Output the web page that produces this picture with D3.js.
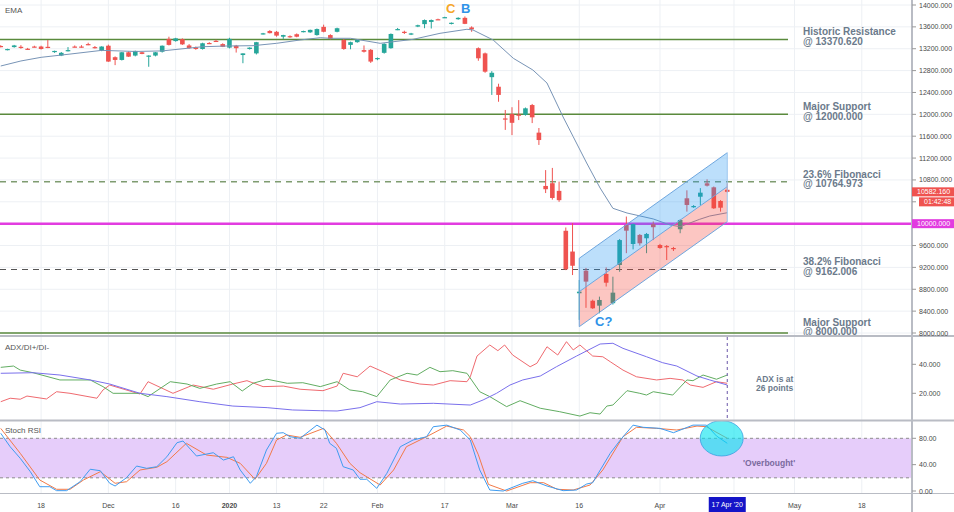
<!DOCTYPE html>
<meta charset="utf-8">
<style>
body{margin:0;background-color:#fff;}
svg text{font-family:"Liberation Sans",Arial,sans-serif;}
.note{font-weight:bold;fill:#6b7a8b;font-size:10px;}
.axis-label{font-size:7px;fill:#4a4a4a;}
.pane-title{font-size:8px;fill:#555;}
</style>
<svg id="chart" width="954" height="512"></svg>
<script src="https://cdn.jsdelivr.net/npm/d3@7"></script>
<script>
// daily candles, [bar, open, high, low, close]; bar 0 = 18 Nov 2019, holidays skipped
const candles = [
  [-6,13250,13265,13225,13235],[-5,13180,13200,13170,13195],[-4,13230,13270,13220,13260],
  [-3,13235,13265,13200,13220],[-2,13200,13215,13180,13190],[-1,13240,13255,13225,13230],
  [0,13240,13255,13185,13195],[1,13235,13360,13210,13220],[2,13140,13165,13125,13160],
  [3,13075,13140,13065,13125],[4,13160,13230,13150,13175],[5,13240,13260,13225,13232],
  [6,13240,13265,13220,13235],[7,13285,13310,13265,13280],[8,13230,13250,13205,13220],
  [9,13165,13245,13155,13240],[10,13255,13275,12960,12965],[11,13045,13060,12900,12995],
  [12,12995,13140,12985,13135],[13,13135,13150,13050,13055],[14,13075,13165,13060,13160],
  [15,13135,13145,13100,13105],[16,13070,13080,12870,13075],[17,13075,13140,13060,13135],
  [18,13145,13260,13130,13255],[19,13380,13420,13260,13270],[20,13340,13400,13330,13390],
  [21,13375,13390,13270,13280],[22,13260,13285,13200,13210],[23,13225,13240,13180,13195],
  [24,13195,13310,13185,13300],[25,13305,13320,13285,13298],[26,13345,13365,13330,13340],
  [27,13285,13300,13230,13235],[28,13220,13400,13205,13380],[29,13255,13270,13130,13210],
  [30,13085,13115,12935,13115],[31,13195,13225,13185,13220],[32,13115,13325,13095,13320],
  [33,13470,13490,13460,13482],[34,13525,13540,13480,13485],[35,13510,13525,13420,13440],
  [36,13420,13455,13380,13450],[37,13430,13445,13400,13410],[38,13465,13480,13410,13420],
  [39,13512,13530,13500,13524],[40,13500,13550,13490,13545],[41,13450,13570,13440,13560],
  [42,13600,13640,13500,13510],[43,13450,13465,13370,13380],[44,13510,13585,13500,13575],
  [45,13360,13380,13180,13195],[46,13270,13330,13190,13320],[47,13320,13370,13310,13360],
  [48,13175,13260,13130,13145],[49,13180,13195,12940,12965],[50,13020,13040,12990,13030],
  [51,13125,13300,13110,13290],[52,13210,13480,13200,13470],[53,13550,13580,13540,13560],
  [54,13510,13530,13470,13490],[55,13460,13490,13450,13480],[56,13605,13640,13595,13630],
  [57,13650,13735,13575,13725],[58,13690,13735,13570,13725],[59,13740,13750,13730,13738],
  [60,13770,13785,13765,13778],[61,13655,13680,13645,13675],[62,13740,13775,13730,13765],
  [63,13765,13790,13650,13655],[64,13590,13610,13510,13555],[65,13210,13225,12980,13025],
  [66,13115,13130,12760,12780],[67,12680,12790,12355,12760],[68,12505,12560,12230,12355],
  [69,11925,12080,11715,11910],[70,12005,12130,11620,11845],[71,11995,12260,11895,11985],
  [72,11990,12125,11975,12110],[73,12170,12190,11840,11945],[74,11665,11750,11440,11530],
  [75,10690,10980,10560,10630],[76,10740,11020,10440,10470],[77,10600,10770,10400,10430],
  [78,9870,9930,9150,9165],[79,9490,10010,9060,9230],[80,8727,8970,8240,8756],
  [81,9140,9190,8460,8940],[82,8590,8610,8440,8452],[83,8500,8665,8360,8604],
  [84,9080,9200,8850,8920],[85,8545,9030,8520,8738],[86,9244,9720,9120,9700],
  [87,9976,10130,9460,9872],[88,9628,10000,9530,9992],[89,9794,9810,9600,9641],
  [90,9733,9830,9460,9812],[91,9992,10040,9700,9935],[92,9610,9630,9540,9555],
  [93,9590,9610,9335,9570],[94,9555,9575,9500,9535],[95,9898,10080,9825,10067],
  [96,10464,10610,10220,10342],[97,10300,10340,10290,10323],[98,10493,10650,10340,10567],
  [99,10738,10810,10680,10695],[100,10665,10680,10270,10281],[101,10415,10430,10220,10292],
  [102,10620,10740,10570,10582.16]
]

// EMA line, [bar, value]
const ema = [[-6,12884],[-3,12976],[0,13043],[4,13098],[9,13170],[14,13150],[18,13160],
  [24,13237],[27.6,13250],[31.5,13256],[35,13299],[38.5,13360],[41.5,13402],[43,13391],
  [46,13391],[50.4,13299],[55.3,13372],[59.3,13482],[63.3,13556],[64.2,13543],[67.2,13360],
  [70.2,13025],[73.1,12811],[75.2,12573],[77.6,11951],[79.1,11591],[81.1,11110],[83.1,10652],
  [85,10281],[87.1,10195],[91,10086],[93.5,9976],[95,9945],[97.9,10080],[99.4,10140],[102,10200]]

// ADX / DI+ / DI-
const adx = [[-6,33.8],[-1.2,34.2],[2.8,32.6],[7.3,29.2],[10.2,26.4],[14.7,20],[18.7,17.7],
  [23.6,14.2],[28.5,11.2],[33.6,10.1],[37.4,8.5],[41.5,8],[44,7.8],[47.4,10.1],[49.9,14.2],
  [53.4,12.6],[58.3,13.1],[63.8,11.9],[65.7,15.4],[67.7,20],[69.7,25.7],[71.6,29.2],[74.2,31.9],
  [76.6,38.3],[79.6,45.7],[83.1,54],[85,54.5],[86.5,51],[90,45.2],[92.4,41.1],[94.5,38.8],
  [97.5,31.9],[99.4,29.2],[102,25.7]]
const diPlus = [[-6,37.9],[-4.1,38.8],[-3.1,36],[-1.2,34.2],[2.8,29.2],[7.3,29.2],[9.2,24.6],
  [10.7,20],[14.7,20],[15.9,17.7],[19.2,28],[21.7,26.4],[23.6,23.4],[26.1,26.4],[28.1,28],
  [29.9,21.6],[31.5,26.9],[33.6,29.7],[36.6,26.9],[38.9,27.3],[41.5,24.6],[44,28],[45.9,22.3],
  [47.8,21.1],[49.9,17.7],[51.9,29.2],[54.4,33.8],[55.9,32.6],[57.8,37.9],[59.3,34.9],[61.2,35.6],
  [63.3,33.8],[65.2,21.1],[66.7,17.7],[69.2,10.8],[71.2,14.9],[74.2,9.7],[77.1,7.3],[80.1,4.3],
  [81.6,6.6],[83.1,5.7],[84.1,11.2],[85,11.9],[87.1,21.8],[89,20],[90,18.8],[91,21.1],[93.9,18.8],
  [96,29.2],[96.9,28.7],[98.4,32.6],[100.4,29.7],[102,32.6]]
const diMinus = [[-6,14.2],[-4.6,16.6],[-3.1,15.9],[-2.1,18.1],[0.8,16.1],[2.3,21.1],[4.3,20],
  [8.3,16.6],[9.2,22.3],[10.2,25.7],[14.7,19.5],[15.9,28],[19.6,20],[22.6,25.7],[25.6,22.8],
  [28.5,26.4],[30.6,28.7],[33,24.6],[36,25],[38.5,22.8],[41.9,21.8],[44,25],[44.9,33.8],[47,31.4],
  [48.9,38.8],[50.8,34.9],[53.4,29.2],[56.3,26.4],[58.3,25.7],[60.8,28.7],[63.3,28],[63.8,31.4],
  [64.8,45.7],[66.7,53.3],[67.9,49.4],[68.9,53.3],[70.1,46.4],[72.7,38.3],[73.7,40.7],[75.2,52.1],
  [76.8,46.4],[78.1,55.6],[79.1,49.9],[80.1,53.3],[82,45.7],[83.5,45.2],[84.6,41.8],[86.5,36],
  [88.5,31.4],[91.5,29.2],[93.5,30.3],[95.4,29.2],[96.5,25.7],[98.4,24.1],[100.4,28],[102,26.9]]

// Stoch RSI %K and %D
const stochK = [[-6,87.6],[-4.6,67.2],[-3.1,49.6],[-1.6,29.3],[-0.2,6.5],[1.3,6.5],[2.3,0.5],
  [3.8,0.5],[5.8,14.1],[7.3,33],[8.8,30.8],[10.2,11.7],[11,7.6],[12.7,20.2],[14.2,37.9],[15.7,34.4],
  [17.2,36.9],[18.7,52],[20.2,73.3],[21.1,75.9],[23.1,53.1],[25.6,58.1],[27.1,47],[28.6,52],
  [29.6,31.9],[31.1,11.7],[32,21.7],[33.5,62.2],[35,87.6],[36,88.5],[37,82.4],[38.5,80],[41,100],
  [42.2,92.6],[42.9,72.4],[43.9,64.8],[44.9,36.9],[46.4,31.9],[47.4,17.8],[48.4,17.8],[49.9,4.1],
  [51.4,26.9],[53.4,67.2],[55.3,77.4],[57.3,82.4],[58.3,97.6],[60.3,100],[62.3,92.6],[63.8,77.4],
  [65.2,32],[66.7,1.5],[68.7,0],[71.6,11.7],[73.1,15.6],[75.2,7.6],[77.6,0.5],[79.6,1.5],
  [81.1,10.6],[82,12.6],[84.6,57.2],[86.1,77.4],[88,100],[89.5,96.7],[92,95.1],[94,88.5],
  [96.9,100],[98.9,100],[100.4,83.5],[102,72.4]]
const stochD = [[-6,95],[-3.1,57.2],[-0.2,16.7],[2.3,2.6],[4.3,2.6],[6.3,16.7],[8.8,29.3],
  [11,11.7],[12.7,14.1],[14.7,31.9],[17.2,36],[18.7,44.5],[21.6,72.4],[24.6,54.6],[27.6,51.1],
  [29.6,42],[31.8,17.8],[33.5,42],[35,77.4],[36.5,85],[38.5,81.5],[42,95.1],[43.9,72.4],[45.9,42],
  [47.4,27.8],[50.4,9.1],[52.4,31.9],[54.3,67.2],[57.3,82.4],[60.3,98.6],[62.8,92.6],[63.8,82.4],
  [65,55],[66.5,10],[69.2,0],[72.7,12.6],[74.7,12.6],[76.7,2.6],[79.1,1.5],[81.6,9.1],[83.5,31.9],
  [86.5,82.4],[88.5,96.7],[91.5,95.1],[94.5,92.6],[97.5,98.6],[98.9,97.6],[102,80]]

// regression channel, [bar, value] at both ends
const channelTop = [[80,9367],[102,11298]]
const channelMid = [[80,8756],[102,10677]]
const channelBot = [[80,8116],[102,10036]]

// horizontal levels
const levelValues = [13370.62, 12000, 10764.973, 9162.006, 8000]
const levelNames = ['Historic Resistance', 'Major Support', '23.6% Fibonacci', '38.2% Fibonacci', 'Major Support']
const levelKinds = ['solid', 'solid', 'fibA', 'fibB', 'solid']

// axes
const priceTicks = [8000,8400,8800,9200,9600,10000,10400,10800,11200,11600,12000,12400,12800,13200,13600,14000]
const adxTicks = [20, 40]
const stochTicks = [0, 40, 80]
const timeTicks = [[0,'18'],[10,'Dec'],[20,'16'],[28,'2020'],[35,'13'],[42,'22'],[50,'Feb'],
  [60,'17'],[70,'Mar'],[80,'16'],[92,'Apr'],[103,''],[112,'May'],[122,'18']]
const lastBar = 102

// ---------------------------------------------------------------
const svg = d3.select('#chart')
const AXIS_X = 912

const x = d3.scaleLinear().domain([0, 122]).range([41.1, 861.8])
const yP = d3.scaleLinear().domain([8000, 14000]).range([333, 5])
const yA = d3.scaleLinear().domain([0, 40]).range([422.3, 364.3])
const yS = d3.scaleLinear().domain([0, 80]).range([491, 438.3])

const defs = svg.append('defs')
function clip(id, y0, y1) {
  defs.append('clipPath').attr('id', id).append('rect')
    .attr('x', 0).attr('y', y0).attr('width', AXIS_X).attr('height', y1 - y0)
}
clip('cp', 0, 336); clip('ca', 337, 420); clip('cs', 421, 493)

// grid
const grid = svg.append('g')
grid.selectAll('line.v').data(timeTicks).enter().append('line')
  .attr('x1', d => x(d[0])).attr('x2', d => x(d[0]))
  .attr('y1', 0).attr('y2', 493).attr('stroke', '#edf0f4')
grid.selectAll('line.h').data(priceTicks).enter().append('line')
  .attr('x1', 0).attr('x2', AXIS_X).attr('y1', d => yP(d)).attr('y2', d => yP(d))
  .attr('stroke', '#edf0f4')

// stoch band 20..80
svg.append('rect').attr('x', 0).attr('width', AXIS_X)
  .attr('y', yS(80)).attr('height', yS(20) - yS(80)).attr('fill', '#e6cdfa')
svg.selectAll('line.band').data([20, 80]).enter().append('line')
  .attr('x1', 0).attr('x2', AXIS_X).attr('y1', d => yS(d)).attr('y2', d => yS(d))
  .attr('stroke', '#8c8c8c').attr('stroke-dasharray', '3,3')

// price pane
const price = svg.append('g').attr('clip-path', 'url(#cp)')
const levelStyle = {
  solid: {stroke: '#5a8a3c', dash: null, w: 1.5},
  fibA: {stroke: '#7f9c70', dash: '6,5', w: 1.5},
  fibB: {stroke: '#555', dash: '6,5', w: 1.2}
}
price.selectAll('line.level').data(levelValues).enter().append('line')
  .attr('x1', 0).attr('x2', 788).attr('y1', d => yP(d)).attr('y2', d => yP(d))
  .attr('stroke', (d, i) => levelStyle[levelKinds[i]].stroke)
  .attr('stroke-width', (d, i) => levelStyle[levelKinds[i]].w)
  .attr('stroke-dasharray', (d, i) => levelStyle[levelKinds[i]].dash)
price.append('line').attr('x1', 0).attr('x2', AXIS_X)
  .attr('y1', yP(10000)).attr('y2', yP(10000))
  .attr('stroke', '#e23ce0').attr('stroke-width', 2.5)

// candles
const UP = '#26a69a', DOWN = '#ef5350'
const c = price.selectAll('g.candle').data(candles).enter().append('g')
c.append('line')
  .attr('x1', d => x(d[0])).attr('x2', d => x(d[0]))
  .attr('y1', d => yP(d[2])).attr('y2', d => yP(d[3]))
  .attr('stroke', d => d[4] >= d[1] ? UP : DOWN)
c.append('rect')
  .attr('x', d => x(d[0]) - 2.3).attr('width', 4.6)
  .attr('y', d => yP(Math.max(d[1], d[4])))
  .attr('height', d => Math.max(1.2, Math.abs(yP(d[1]) - yP(d[4]))))
  .attr('fill', d => d[4] >= d[1] ? UP : DOWN)

// EMA
const lineP = d3.line().x(d => x(d[0])).y(d => yP(d[1]))
price.append('path').attr('d', lineP(ema)).attr('fill', 'none')
  .attr('stroke', '#7894b6').attr('stroke-width', 1)

// channel
const band = (a, b) => a.concat(b.slice().reverse())
price.append('path').attr('d', lineP(band(channelTop, channelMid)) + 'Z')
  .attr('fill', 'rgba(33,150,243,0.3)')
price.append('path').attr('d', lineP(band(channelMid, channelBot)) + 'Z')
  .attr('fill', 'rgba(244,67,54,0.3)')
;[channelTop, channelMid, channelBot].forEach(l => {
  price.append('path').attr('d', lineP(l)).attr('stroke', '#6ea6de').attr('stroke-width', 1)
})
price.append('line').attr('x1', x(80)).attr('x2', x(80))
  .attr('y1', yP(channelTop[0][1])).attr('y2', yP(channelBot[0][1]))
  .attr('stroke', '#6ea6de')
price.append('line').attr('x1', x(102)).attr('x2', x(102))
  .attr('y1', yP(channelTop[1][1])).attr('y2', yP(channelBot[1][1]))
  .attr('stroke', '#9cc6ee')

// level labels (the lowest one sits higher, it touches the pane edge)
const lab = svg.selectAll('text.lvl').data(levelValues).enter().append('text')
  .attr('class', 'note').attr('x', 803).attr('y', d => yP(d) - (d === 8000 ? 7.5 : 4))
lab.append('tspan').text((d, i) => levelNames[i])
lab.append('tspan').attr('x', 803).attr('dy', 9.2).text(d => '@ ' + d3.format('.3f')(d))

// wave labels
svg.append('text').attr('x', 446).attr('y', 13).text('C')
  .style('font', 'bold 13px "Liberation Sans",Arial').style('fill', '#f5a62a')
svg.append('text').attr('x', 461).attr('y', 13).text('B')
  .style('font', 'bold 13px "Liberation Sans",Arial').style('fill', '#2f93e8')
svg.append('text').attr('x', 595).attr('y', 326).text('C?')
  .style('font', 'bold 13px "Liberation Sans",Arial').style('fill', '#2f93e8')
svg.append('text').attr('class', 'pane-title').attr('x', 5).attr('y', 13).text('EMA')

// ADX pane
const adxG = svg.append('g').attr('clip-path', 'url(#ca)')
const lineA = d3.line().x(d => x(d[0])).y(d => yA(d[1]))
;[[diMinus, '#ef6a6f'], [diPlus, '#62ad62'], [adx, '#7a70ec']].forEach(s => {
  adxG.append('path').attr('d', lineA(s[0])).attr('fill', 'none')
    .attr('stroke', s[1]).attr('stroke-width', 1)
})
svg.append('line').attr('x1', x(lastBar)).attr('x2', x(lastBar))
  .attr('y1', 337).attr('y2', 420).attr('stroke', '#6a55a8').attr('stroke-dasharray', '3,3')
svg.append('text').attr('class', 'pane-title').attr('x', 5).attr('y', 350).text('ADX/DI+/DI-')
const adxNote = svg.append('text').attr('class', 'note').style('font-size', '8.5px')
  .attr('x', 756).attr('y', 382)
adxNote.append('tspan').text('ADX is at')
adxNote.append('tspan').attr('x', 756).attr('dy', 9).text(Math.round(adx[adx.length - 1][1]) + ' points')

// Stoch pane
const stG = svg.append('g').attr('clip-path', 'url(#cs)')
const lineS = d3.line().x(d => x(d[0])).y(d => yS(d[1]))
stG.append('path').attr('d', lineS(stochD)).attr('fill', 'none')
  .attr('stroke', '#f27a48').attr('stroke-width', 1)
stG.append('path').attr('d', lineS(stochK)).attr('fill', 'none')
  .attr('stroke', '#3f9cf0').attr('stroke-width', 1)
stG.append('ellipse').attr('cx', 721.7).attr('cy', 438.3).attr('rx', 21.5).attr('ry', 17.7)
  .attr('fill', '#00e2ee').attr('fill-opacity', 0.6).attr('stroke', '#3aa0e0').attr('stroke-width', 0.8)
svg.append('text').attr('class', 'pane-title').attr('x', 5).attr('y', 433).text('Stoch RSI')
svg.append('text').attr('class', 'note').style('font-size', '8.5px').style('fill', '#7a6a9e')
  .attr('x', 743).attr('y', 466).text("'Overbought'")

// separators
svg.selectAll('line.sep').data([336, 420.5, 493.5]).enter().append('line')
  .attr('x1', 0).attr('x2', 954).attr('y1', d => d).attr('y2', d => d)
  .attr('stroke', '#b9bcc4').attr('stroke-width', d => d === 493.5 ? 1.2 : 2)
svg.append('line').attr('x1', AXIS_X).attr('x2', AXIS_X).attr('y1', 0).attr('y2', 512)
  .attr('stroke', '#b9bcc4').attr('stroke-width', 2)

// right axis ticks; labels hidden under the price tags are left out
const lastClose = candles[candles.length - 1][4]
function rightTicks(vals, y, fmt, hidden) {
  const g = svg.append('g')
  g.selectAll('line').data(vals).enter().append('line')
    .attr('x1', AXIS_X).attr('x2', AXIS_X + 4).attr('y1', d => y(d)).attr('y2', d => y(d))
    .attr('stroke', '#999')
  g.selectAll('text').data(vals.filter(v => !hidden.includes(v))).enter().append('text')
    .attr('class', 'axis-label')
    .attr('x', AXIS_X + 7).attr('y', d => y(d) + 2.5).text(d => d3.format(fmt)(d))
}
rightTicks(priceTicks, yP, '.3f', [10000, 10400])
rightTicks(adxTicks, yA, '.3f', [])
rightTicks(stochTicks, yS, '.2f', [])

// price tags on the axis
function tag(yc, x0, fill, txt) {
  svg.append('rect').attr('x', x0).attr('y', yc - 4.5).attr('width', 954 - x0).attr('height', 9)
    .attr('fill', fill)
  svg.append('text').attr('class', 'axis-label').style('fill', '#fff')
    .attr('x', x0 + 5).attr('y', yc + 2.5).text(txt)
}
tag(yP(10000), AXIS_X, '#e23ce0', '10000.000')
tag(yP(lastClose), AXIS_X, '#ef5350', d3.format('.3f')(lastClose))
tag(yP(lastClose) + 10, 919, '#ef5350', '01:42:48')

// time axis
svg.selectAll('text.t').data(timeTicks).enter().append('text').attr('class', 'axis-label')
  .attr('x', d => x(d[0])).attr('y', 508).attr('text-anchor', 'middle')
  .style('font-weight', d => d[1] === '2020' ? 'bold' : null).text(d => d[1])
svg.append('rect').attr('x', x(lastBar) - 18.5).attr('y', 497).attr('width', 37).attr('height', 15)
  .attr('fill', '#1414c8')
svg.append('text').attr('class', 'axis-label').style('fill', '#fff')
  .attr('x', x(lastBar)).attr('y', 507).attr('text-anchor', 'middle').text("17 Apr '20")
</script>
